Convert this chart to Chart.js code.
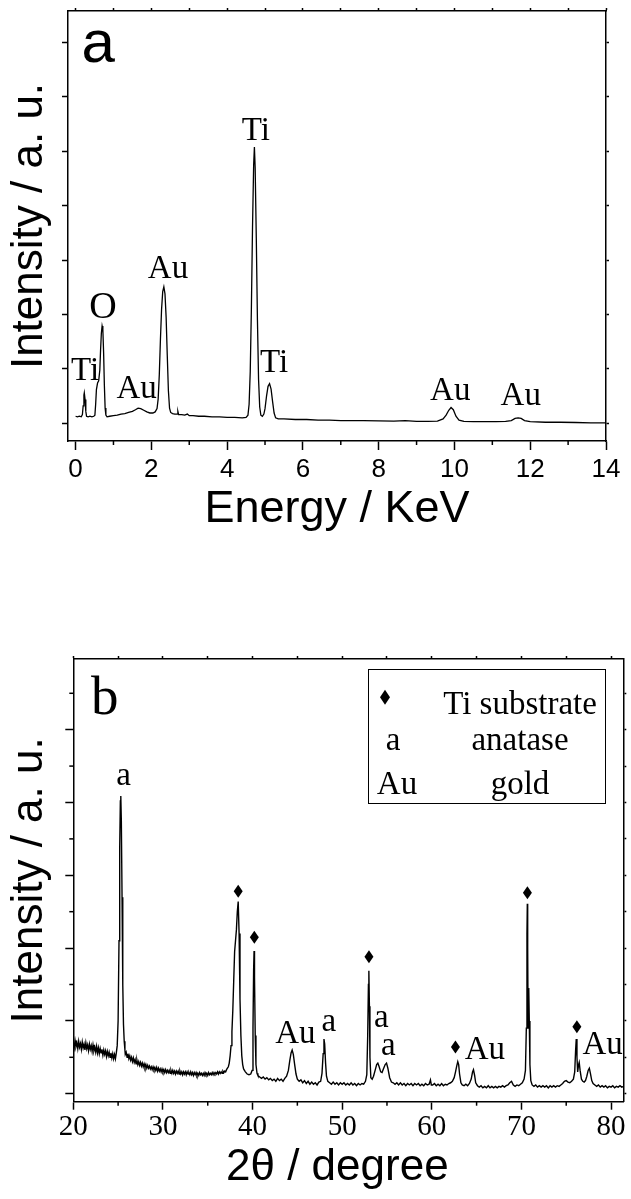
<!DOCTYPE html>
<html>
<head>
<meta charset="utf-8">
<script src="https://cdn.jsdelivr.net/npm/chart.js@4/dist/chart.umd.min.js"></script>
<style>
  html, body { margin: 0; padding: 0; background: #fff; }
  #wrap { position: relative; width: 631px; height: 1199px; overflow: hidden; }
  canvas { position: absolute; left: 0; }
  #edsCanvas { top: 0; }
  #xrdCanvas { top: 600px; }
</style>
</head>
<body>
<div id="wrap">
  <canvas id="edsCanvas" width="631" height="540"></canvas>
  <canvas id="xrdCanvas" width="631" height="599"></canvas>
</div>
<script>
// ---------- (a) EDS spectrum: [energy keV, intensity a.u.] ----------
const edsSpectrum = [
  [0.00,0.13],[0.05,0.12],[0.10,0.13],[0.15,0.12],[0.18,0.16],[0.20,0.32],[0.22,0.52],[0.23,0.56],
  [0.25,0.44],[0.27,0.22],[0.29,0.13],[0.33,0.12],[0.38,0.13],[0.43,0.12],[0.48,0.13],[0.51,0.15],
  [0.53,0.35],[0.55,0.62],[0.58,0.74],[0.61,0.78],[0.64,0.98],[0.66,1.35],[0.68,1.65],[0.70,1.79],
  [0.72,1.72],[0.74,1.30],[0.76,0.70],[0.78,0.28],[0.80,0.15],[0.83,0.12],[0.90,0.13],[1.00,0.14],
  [1.10,0.15],[1.20,0.17],[1.30,0.18],[1.40,0.20],[1.50,0.22],[1.58,0.25],[1.65,0.28],[1.72,0.27],
  [1.80,0.24],[1.88,0.21],[1.96,0.19],[2.04,0.19],[2.10,0.21],[2.15,0.27],[2.18,0.45],[2.21,0.90],
  [2.24,1.55],[2.27,2.10],[2.30,2.42],[2.33,2.51],[2.36,2.38],[2.39,1.95],[2.42,1.25],[2.45,0.60],
  [2.48,0.28],[2.51,0.20],[2.56,0.18],[2.62,0.17],[2.68,0.17],[2.70,0.22],[2.72,0.16],[2.80,0.16],
  [2.88,0.15],[2.95,0.17],[3.00,0.14],[3.10,0.14],[3.25,0.13],[3.40,0.13],[3.60,0.12],[3.80,0.12],
  [4.00,0.11],[4.20,0.11],[4.40,0.10],[4.50,0.11],[4.55,0.15],[4.58,0.35],[4.61,0.95],[4.64,2.10],
  [4.67,3.60],[4.70,4.75],[4.72,5.08],[4.74,4.70],[4.77,3.40],[4.80,1.90],[4.83,0.80],[4.86,0.30],
  [4.89,0.15],[4.93,0.13],[4.97,0.17],[5.00,0.27],[5.04,0.50],[5.08,0.68],[5.12,0.73],[5.16,0.63],
  [5.20,0.40],[5.24,0.19],[5.28,0.10],[5.35,0.08],[5.50,0.08],[5.80,0.07],[6.10,0.07],[6.40,0.06],
  [6.70,0.06],[7.00,0.05],[7.30,0.05],[7.60,0.05],[8.00,0.045],[8.40,0.04],[8.70,0.05],[9.00,0.035],
  [9.30,0.035],[9.55,0.04],[9.70,0.08],[9.78,0.15],[9.85,0.24],[9.91,0.29],[9.97,0.25],[10.04,0.13],
  [10.12,0.06],[10.25,0.035],[10.50,0.03],[10.80,0.03],[11.10,0.03],[11.35,0.035],[11.50,0.05],
  [11.60,0.09],[11.68,0.10],[11.76,0.09],[11.85,0.05],[12.00,0.03],[12.40,0.02],[12.80,0.02],
  [13.20,0.015],[13.60,0.01],[14.00,0.01]
];
const energyTicks = [0, 2, 4, 6, 8, 10, 12, 14];
const energyMinorTicks = [1, 3, 5, 7, 9, 11, 13];
const edsIntensityTicks = [0, 1, 2, 3, 4, 5, 6, 7];
const edsLabelText = ['Ti', 'O', 'Au', 'Au', 'Ti', 'Ti', 'Au', 'Au'];
const edsLabelEnergy = [0.25, 0.72, 1.61, 2.44, 4.76, 5.24, 9.89, 11.75];
const edsLabelLevel = [0.80, 1.94, 0.47, 2.67, 5.21, 0.94, 0.43, 0.34];

// ---------- (b) XRD pattern: [2θ degree, intensity a.u.] ----------
const xrdPattern = [
  [20.0,0.70],[20.1,0.63],[20.2,0.73],[20.3,0.65],[20.4,0.70],[20.5,0.62],[20.6,0.72],[20.7,0.64],
  [20.8,0.69],[20.9,0.61],[21.0,0.71],[21.1,0.63],[21.2,0.68],[21.3,0.60],[21.4,0.70],[21.5,0.62],
  [21.6,0.67],[21.7,0.59],[21.8,0.68],[21.9,0.61],[22.0,0.66],[22.1,0.58],[22.2,0.67],[22.3,0.59],
  [22.4,0.64],[22.5,0.57],[22.6,0.65],[22.7,0.56],[22.8,0.63],[22.9,0.55],[23.0,0.62],[23.1,0.56],
  [23.2,0.61],[23.3,0.53],[23.4,0.60],[23.5,0.54],[23.6,0.59],[23.7,0.51],[23.8,0.58],[23.9,0.52],
  [24.0,0.57],[24.1,0.50],[24.2,0.56],[24.3,0.49],[24.4,0.55],[24.5,0.48],[24.6,0.54],[24.7,0.48],
  [24.8,0.56],[24.9,0.66],[25.0,1.00],[25.1,2.10],[25.18,3.40],[25.25,4.02],[25.3,4.09],[25.36,3.75],
  [25.44,2.70],[25.52,1.50],[25.6,0.95],[25.68,0.72],[25.76,0.60],
  [25.8,0.54],[25.9,0.57],[26.0,0.50],[26.1,0.55],[26.2,0.48],[26.3,0.52],[26.4,0.46],[26.5,0.50],
  [26.6,0.44],[26.7,0.49],[26.8,0.43],[26.9,0.47],[27.0,0.41],[27.1,0.46],[27.2,0.40],[27.3,0.44],
  [27.4,0.39],[27.5,0.43],[27.6,0.38],[27.7,0.42],[27.8,0.37],[27.9,0.41],[28.0,0.36],[28.1,0.40],
  [28.2,0.35],[28.3,0.39],[28.4,0.35],[28.5,0.38],[28.6,0.34],[28.7,0.37],[28.8,0.33],[28.9,0.37],
  [29.0,0.33],[29.1,0.36],[29.2,0.32],[29.3,0.36],[29.4,0.31],[29.5,0.35],[29.6,0.31],[29.7,0.34],
  [29.8,0.30],[29.9,0.34],[30.0,0.30],[30.1,0.33],[30.2,0.29],[30.3,0.33],[30.4,0.29],[30.5,0.32],
  [30.6,0.29],[30.7,0.32],[30.8,0.28],[30.9,0.32],[31.0,0.28],[31.1,0.32],[31.2,0.28],[31.3,0.31],
  [31.4,0.27],[31.5,0.31],[31.6,0.28],[31.7,0.31],[31.8,0.27],[31.9,0.31],[32.0,0.27],[32.1,0.30],
  [32.2,0.26],[32.3,0.30],[32.4,0.27],[32.5,0.30],[32.6,0.26],[32.7,0.30],[32.8,0.27],[32.9,0.29],
  [33.0,0.26],[33.1,0.30],[33.2,0.26],[33.3,0.29],[33.4,0.25],[33.5,0.29],[33.6,0.26],[33.7,0.29],
  [33.8,0.25],[33.9,0.28],[34.0,0.25],[34.1,0.29],[34.2,0.26],[34.3,0.28],[34.4,0.25],[34.5,0.28],
  [34.6,0.25],[34.7,0.29],[34.8,0.26],[34.9,0.28],[35.0,0.25],[35.1,0.29],[35.2,0.26],[35.3,0.28],
  [35.4,0.26],[35.5,0.29],[35.6,0.26],[35.7,0.29],[35.8,0.27],[35.9,0.29],[36.0,0.27],[36.1,0.30],
  [36.2,0.27],[36.3,0.30],[36.4,0.28],[36.5,0.30],[36.6,0.28],[36.7,0.31],[36.8,0.29],[36.9,0.31],
  [37.0,0.30],[37.1,0.33],[37.2,0.35],[37.3,0.37],[37.4,0.42],[37.5,0.52],[37.6,0.66],[37.7,0.85],
  [37.8,1.15],[37.9,1.55],[38.0,1.95],[38.1,2.10],[38.2,2.25],[38.3,2.50],[38.4,2.64],[38.5,2.20],
  [38.6,1.30],[38.7,0.80],[38.8,0.52],[38.9,0.40],[39.0,0.34],[39.2,0.30],[39.4,0.27],[39.6,0.26],
  [39.8,0.27],[39.95,0.32],[40.05,0.90],[40.12,1.70],[40.17,1.96],[40.22,1.60],[40.3,0.80],
  [40.38,0.40],[40.5,0.28],[40.6,0.25],[40.8,0.23],[41.0,0.21],[41.2,0.23],[41.4,0.20],[41.6,0.22],
  [41.8,0.19],[42.0,0.21],[42.2,0.18],[42.4,0.20],[42.6,0.17],[42.8,0.21],[43.0,0.18],[43.2,0.20],
  [43.4,0.17],[43.6,0.21],[43.8,0.24],[44.0,0.32],[44.15,0.45],[44.3,0.56],[44.42,0.60],[44.55,0.54],
  [44.7,0.40],[44.85,0.27],[45.0,0.20],[45.2,0.17],[45.4,0.19],[45.6,0.15],[45.8,0.18],[46.0,0.14],
  [46.2,0.17],[46.4,0.13],[46.6,0.16],[46.8,0.13],[47.0,0.15],[47.2,0.12],[47.4,0.16],[47.6,0.17],
  [47.75,0.28],[47.88,0.55],[47.97,0.75],[48.05,0.68],[48.15,0.42],[48.25,0.24],[48.4,0.17],
  [48.6,0.15],[48.8,0.13],[49.0,0.16],[49.2,0.13],[49.4,0.15],[49.6,0.12],[49.8,0.15],[50.0,0.13],
  [50.2,0.15],[50.4,0.12],[50.6,0.14],[50.8,0.12],[51.0,0.15],[51.2,0.12],[51.4,0.14],[51.6,0.11],
  [51.8,0.14],[52.0,0.12],[52.2,0.14],[52.4,0.13],[52.6,0.17],[52.75,0.26],[52.85,0.80],[52.93,1.50],
  [52.98,1.69],[53.04,1.20],[53.1,0.50],[53.2,0.22],[53.35,0.20],[53.5,0.24],[53.7,0.33],[53.85,0.40],
  [53.98,0.42],[54.1,0.38],[54.3,0.30],[54.45,0.29],[54.6,0.34],[54.8,0.40],[54.95,0.42],[55.1,0.35],
  [55.3,0.22],[55.5,0.16],[55.7,0.15],[55.9,0.13],[56.1,0.15],[56.3,0.12],[56.5,0.15],[56.7,0.12],
  [56.9,0.14],[57.1,0.11],[57.3,0.14],[57.5,0.12],[57.7,0.14],[57.9,0.11],[58.1,0.14],[58.3,0.12],
  [58.5,0.14],[58.7,0.11],[58.9,0.13],[59.1,0.11],[59.3,0.14],[59.5,0.12],[59.7,0.13],[59.85,0.19],
  [59.95,0.12],[60.1,0.12],[60.3,0.14],[60.5,0.11],[60.7,0.13],[60.9,0.11],[61.1,0.14],[61.3,0.11],
  [61.5,0.13],[61.7,0.12],[61.9,0.14],[62.1,0.15],[62.3,0.17],[62.5,0.22],[62.65,0.30],[62.78,0.38],
  [62.9,0.44],[63.0,0.40],[63.1,0.27],[63.25,0.15],[63.4,0.12],[63.6,0.11],[63.8,0.13],[64.0,0.11],
  [64.2,0.14],[64.4,0.20],[64.55,0.30],[64.65,0.33],[64.78,0.25],[64.9,0.15],[65.1,0.11],[65.3,0.09],
  [65.5,0.11],[65.7,0.08],[65.9,0.10],[66.1,0.08],[66.3,0.11],[66.5,0.08],[66.7,0.10],[66.9,0.08],
  [67.1,0.10],[67.3,0.08],[67.5,0.10],[67.7,0.09],[67.9,0.11],[68.1,0.09],[68.3,0.11],[68.5,0.12],
  [68.7,0.15],[68.9,0.17],[69.1,0.12],[69.3,0.10],[69.5,0.12],[69.7,0.11],[69.9,0.13],[70.1,0.15],
  [70.3,0.20],[70.45,0.32],[70.55,0.90],[70.62,2.20],[70.66,2.61],[70.7,2.00],[70.75,0.90],[70.8,1.20],
  [70.84,1.45],[70.88,1.00],[70.95,0.40],[71.05,0.18],[71.2,0.12],[71.4,0.10],[71.6,0.12],[71.8,0.09],
  [72.0,0.11],[72.2,0.09],[72.4,0.11],[72.6,0.09],[72.8,0.11],[73.0,0.08],[73.2,0.11],[73.4,0.09],
  [73.6,0.11],[73.8,0.09],[74.0,0.11],[74.2,0.10],[74.4,0.12],[74.6,0.14],[74.8,0.17],[75.0,0.18],
  [75.2,0.16],[75.4,0.15],[75.6,0.17],[75.8,0.20],[75.95,0.30],[76.05,0.60],[76.12,0.75],[76.2,0.50],
  [76.28,0.30],[76.38,0.40],[76.45,0.43],[76.55,0.32],[76.7,0.20],[76.85,0.17],[77.0,0.16],[77.15,0.18],
  [77.3,0.24],[77.45,0.32],[77.58,0.35],[77.7,0.28],[77.85,0.18],[78.0,0.14],[78.2,0.12],[78.4,0.10],
  [78.6,0.12],[78.8,0.09],[79.0,0.11],[79.2,0.09],[79.4,0.11],[79.6,0.08],[79.8,0.10],[80.0,0.09],
  [80.2,0.11],[80.4,0.08],[80.6,0.10],[80.8,0.09],[81.0,0.11],[81.2,0.09],[81.4,0.10]
];
const angleTicks = [20, 30, 40, 50, 60, 70, 80];
const angleMinorTicks = [25, 35, 45, 55, 65, 75];
const angleTopTicks = [20, 25, 30, 35, 40, 45, 50, 55, 60, 65, 70, 75, 80];
const xrdIntensityTicks = [0, 1, 2, 3, 4, 5];
const xrdIntensityMinorTicks = [0.5, 1.5, 2.5, 3.5, 4.5, 5.5];
const xrdLabelText = ['a', 'Au', 'a', 'a', 'a', 'Au', 'Au'];
const xrdLabelAngle = [25.61, 44.78, 48.5, 54.38, 55.14, 65.92, 79.07];
const xrdLabelLevel = [4.24, 0.69, 0.86, 0.92, 0.53, 0.47, 0.54];
const tiSubstrateAngle = [38.4, 40.2, 52.99, 62.64, 70.67, 76.19];
const tiSubstrateLevel = [2.78, 2.15, 1.88, 0.64, 2.76, 0.92];
const legendSymbols = ['◆', 'a', 'Au'];
const legendPhases = ['Ti substrate', 'anatase', 'gold'];

// ---------- shared drawing helpers ----------
const SANS = '"Liberation Sans", Arial, sans-serif';
const SERIF = '"Liberation Serif", "Times New Roman", serif';
const INK = '#000';

const toXY = pts => pts.map(p => ({ x: p[0], y: p[1] }));
const fixedTicks = values => scale => { scale.ticks = values.map(v => ({ value: v })); };

function drawDiamond(ctx, cx, cy, w, h) {
  ctx.beginPath();
  ctx.moveTo(cx, cy - h / 2);
  ctx.lineTo(cx + w / 2, cy);
  ctx.lineTo(cx, cy + h / 2);
  ctx.lineTo(cx - w / 2, cy);
  ctx.closePath();
  ctx.fill();
}

// short minor tick marks along the bottom and left axes
const minorTickPlugin = {
  id: 'minorTicks',
  afterDraw(chart, args, opts) {
    const { ctx, chartArea, scales } = chart;
    ctx.save();
    ctx.strokeStyle = INK;
    ctx.lineWidth = 1.5;
    (opts.x || []).forEach(v => {
      const px = scales.x.getPixelForValue(v);
      ctx.beginPath();
      ctx.moveTo(px, chartArea.bottom);
      ctx.lineTo(px, chartArea.bottom + opts.xLength);
      ctx.stroke();
    });
    (opts.y || []).forEach(v => {
      const py = scales.y.getPixelForValue(v);
      ctx.beginPath();
      ctx.moveTo(chartArea.left - opts.yLength, py);
      ctx.lineTo(chartArea.left, py);
      ctx.stroke();
    });
    ctx.restore();
  }
};

// peak assignments, phase markers, panel letter and legend box
const annotationPlugin = {
  id: 'peakNotes',
  afterDraw(chart, args, opts) {
    const { ctx, chartArea, scales } = chart;
    ctx.save();
    ctx.fillStyle = INK;
    ctx.strokeStyle = INK;
    ctx.textAlign = 'center';
    ctx.textBaseline = 'alphabetic';
    (opts.text || []).forEach((t, i) => {
      ctx.font = (opts.fontSize(t)) + 'px ' + SERIF;
      ctx.fillText(t, scales.x.getPixelForValue(opts.xs[i]), scales.y.getPixelForValue(opts.ys[i]));
    });
    (opts.markX || []).forEach((v, i) => {
      drawDiamond(ctx, scales.x.getPixelForValue(v), scales.y.getPixelForValue(opts.markY[i]), 9, 13);
    });
    if (opts.panel) {
      ctx.textAlign = 'left';
      ctx.font = opts.panel.size + 'px ' + opts.panel.family;
      ctx.fillText(opts.panel.text, chartArea.left + opts.panel.dx, chartArea.top + opts.panel.dy);
    }
    if (opts.legend) {
      const L = opts.legend;
      const bx = chartArea.right - L.right - L.width;
      const by = chartArea.top + L.top;
      ctx.lineWidth = 1;
      ctx.strokeRect(Math.round(bx) + 0.5, Math.round(by) + 0.5, L.width, L.height);
      ctx.font = L.size + 'px ' + SERIF;
      ctx.textAlign = 'center';
      legendSymbols.forEach((s, i) => {
        const base = by + L.rows[i];
        if (s === '◆') {
          drawDiamond(ctx, bx + L.symbolX[i], by + L.diamondY, 10, 15);
        } else {
          ctx.fillText(s, bx + L.symbolX[i], base);
        }
        ctx.fillText(legendPhases[i], bx + L.textX, base);
      });
    }
    ctx.restore();
  }
};

function frameAxes(cfg) {
  const border = { display: true, color: INK, width: 1.5 };
  return {
    x: {
      type: 'linear', position: 'bottom', min: cfg.xMin, max: cfg.xMax,
      afterBuildTicks: fixedTicks(cfg.xTicks),
      afterFit: s => { s.height = cfg.xHeight; },
      grid: { drawOnChartArea: false, drawTicks: true, tickLength: cfg.xTickLen, tickWidth: 1.5, tickColor: INK },
      border,
      ticks: { display: true, color: INK, autoSkip: false, maxRotation: 0, padding: cfg.xLabelPad,
               font: { family: cfg.xLabelFamily, size: cfg.xLabelSize }, callback: v => String(v) },
      title: { display: true, text: cfg.xTitle, color: INK,
               font: { family: SANS, size: cfg.xTitleSize }, padding: { top: 0, bottom: cfg.xTitlePad } }
    },
    x2: {
      type: 'linear', position: 'top', min: cfg.xMin, max: cfg.xMax,
      afterBuildTicks: fixedTicks(cfg.xTopTicks),
      afterFit: s => { s.height = 0; },
      grid: { drawOnChartArea: false, drawTicks: true, tickLength: 3, tickWidth: 1.5, tickColor: INK },
      border, ticks: { display: false }
    },
    y: {
      type: 'linear', position: 'left', min: cfg.yMin, max: cfg.yMax,
      afterBuildTicks: fixedTicks(cfg.yTicks),
      afterFit: s => { s.width = cfg.yWidth; },
      grid: { drawOnChartArea: false, drawTicks: true, tickLength: cfg.yTickLen, tickWidth: 1.5, tickColor: INK },
      border, ticks: { display: false },
      title: { display: true, text: 'Intensity / a. u.', color: INK,
               font: { family: SANS, size: 44 }, padding: { top: cfg.yTitlePad, bottom: 0 } }
    },
    y2: {
      type: 'linear', position: 'right', min: cfg.yMin, max: cfg.yMax,
      afterBuildTicks: fixedTicks(cfg.yRightTicks),
      afterFit: s => { s.width = 0; },
      grid: { drawOnChartArea: false, drawTicks: true, tickLength: 3, tickWidth: 1.5, tickColor: INK },
      border, ticks: { display: false }
    }
  };
}

Chart.defaults.color = INK;
Chart.defaults.animation = false;

// ---------- (a) EDS ----------
new Chart(document.getElementById('edsCanvas'), {
  type: 'line',
  data: {
    datasets: [{
      data: toXY(edsSpectrum), borderColor: INK, borderWidth: 1.3,
      pointRadius: 0, tension: 0, fill: false
    }]
  },
  options: {
    responsive: false, devicePixelRatio: 1,
    layout: { padding: { left: 0, right: 25, top: 11, bottom: 0 } },
    scales: frameAxes({
      xMin: -0.2, xMax: 14, xTicks: energyTicks, xTopTicks: energyTicks.concat(energyMinorTicks),
      xHeight: 99, xTickLen: 9, xLabelPad: 4.4, xLabelFamily: SANS, xLabelSize: 26,
      xTitle: 'Energy / KeV', xTitleSize: 45, xTitlePad: 3.6,
      yMin: -0.325, yMax: 7.58, yTicks: edsIntensityTicks, yRightTicks: edsIntensityTicks,
      yWidth: 68, yTickLen: 6, yTitlePad: 3.4
    }),
    plugins: {
      legend: { display: false }, tooltip: { enabled: false },
      minorTicks: { x: energyMinorTicks, xLength: 4, y: [], yLength: 0 },
      peakNotes: {
        text: edsLabelText, xs: edsLabelEnergy, ys: edsLabelLevel,
        fontSize: t => (t === 'O' ? 38 : 33),
        panel: { text: 'a', family: SANS, size: 60, dx: 13.6, dy: 51 }
      }
    }
  },
  plugins: [minorTickPlugin, annotationPlugin]
});

// ---------- (b) XRD ----------
new Chart(document.getElementById('xrdCanvas'), {
  type: 'line',
  data: {
    datasets: [{
      data: toXY(xrdPattern), borderColor: INK, borderWidth: 1.4,
      pointRadius: 0, tension: 0, fill: false
    }]
  },
  options: {
    responsive: false, devicePixelRatio: 1,
    layout: { padding: { left: 0, right: 7.7, top: 59, bottom: 0 } },
    scales: frameAxes({
      xMin: 20, xMax: 81.37, xTicks: angleTicks, xTopTicks: angleTopTicks,
      xHeight: 97.3, xTickLen: 8, xLabelPad: 0.6, xLabelFamily: SERIF, xLabelSize: 29,
      xTitle: '2θ / degree\u2002', xTitleSize: 44, xTitlePad: 4.8,
      yMin: -0.11, yMax: 5.971, yTicks: xrdIntensityTicks,
      yRightTicks: xrdIntensityTicks.concat(xrdIntensityMinorTicks),
      yWidth: 73.3, yTickLen: 8, yTitlePad: 3.4
    }),
    plugins: {
      legend: { display: false }, tooltip: { enabled: false },
      minorTicks: { x: angleMinorTicks, xLength: 4, y: xrdIntensityMinorTicks, yLength: 4 },
      peakNotes: {
        text: xrdLabelText, xs: xrdLabelAngle, ys: xrdLabelLevel,
        fontSize: () => 33,
        markX: tiSubstrateAngle, markY: tiSubstrateLevel,
        panel: { text: 'b', family: SERIF, size: 55, dx: 17.7, dy: 55 },
        legend: { right: 18.3, top: 10, width: 237, height: 134, size: 33,
                  rows: [45, 81, 125], symbolX: [17, 25, 29], diamondY: 28.3, textX: 152 }
      }
    }
  },
  plugins: [minorTickPlugin, annotationPlugin]
});
</script>
</body>
</html>
